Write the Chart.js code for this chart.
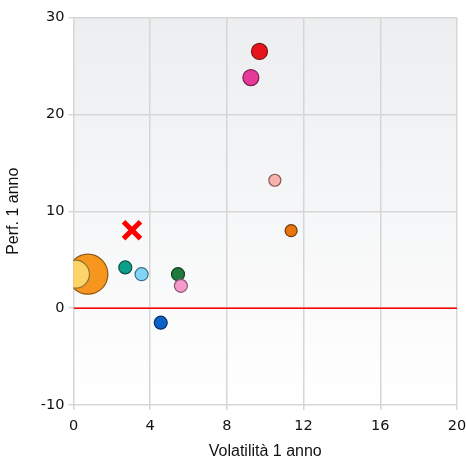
<!DOCTYPE html>
<html>
<head>
<meta charset="utf-8">
<script src="https://cdn.jsdelivr.net/npm/chart.js@4.4.1/dist/chart.umd.min.js"></script>
<style>
  html, body { margin: 0; padding: 0; background: #fff; }
  #wrap { width: 466px; height: 461px; }
</style>
</head>
<body>
<div id="wrap"><canvas id="myChart" width="466" height="461"></canvas></div>
<script>
// volatility (x), 1y performance (y), bubble radius (px)
const volatility = [9.7, 9.25, 10.5, 11.35, 0.75, 0.1, 2.7, 3.55, 5.45, 5.6, 4.55];
const performance = [26.5, 23.8, 13.2, 8.0, 3.5, 3.5, 4.2, 3.5, 3.5, 2.3, -1.5];
const sizes = [8, 8, 6, 6, 20, 14, 6.5, 6.5, 6.5, 6.5, 6.5];
const fills = ['#e8141b', '#e63a9a', '#f7b2ac', '#e8740c', '#f7961e', '#fdd468', '#0c9f89', '#80d7f5', '#1f7a3d', '#f59bc9', '#0b62c6'];
const borders = ['#7a1a1a', '#7d1f52', '#8a5a56', '#6e3906', '#8a5710', '#8a7035', '#0b514a', '#3f6c80', '#123d20', '#8a5372', '#0c2f66'];

// benchmark marker
const benchX = [3.05];
const benchY = [8.05];

const xTicks = [0, 4, 8, 12, 16, 20];
const yTicks = [-10, 0, 10, 20, 30];

const bgPlugin = {
    id: 'bgGradient',
    beforeDraw(chart) {
        const { ctx, chartArea } = chart;
        const g = ctx.createLinearGradient(0, chartArea.top, 0, chartArea.bottom);
        g.addColorStop(0, '#eceef0');
        g.addColorStop(1, '#ffffff');
        ctx.save();
        ctx.fillStyle = g;
        ctx.fillRect(chartArea.left, chartArea.top, chartArea.right - chartArea.left, chartArea.bottom - chartArea.top);
        ctx.restore();
    }
};

// keep tick labels from pushing the plot area inwards
function noPadding(axis) {
    axis.paddingLeft = 0;
    axis.paddingRight = 0;
    axis.paddingTop = 0;
    axis.paddingBottom = 0;
}

const data = {
    datasets: [
        {
            type: 'line',
            data: [{ x: xTicks[0], y: 0 }, { x: xTicks[xTicks.length - 1], y: 0 }],
            borderColor: '#ff0000',
            borderWidth: 1.5,
            pointRadius: 0,
            order: 3
        },
        {
            type: 'bubble',
            data: volatility.map((v, i) => ({ x: v, y: performance[i], r: sizes[i] })),
            backgroundColor: fills,
            borderColor: borders,
            borderWidth: 1.2,
            order: 2
        },
        {
            type: 'scatter',
            data: benchX.map((v, i) => ({ x: v, y: benchY[i] })),
            pointStyle: 'crossRot',
            pointRadius: 12,
            borderColor: '#ff0000',
            borderWidth: 5,
            order: 1
        }
    ]
};

const config = {
    type: 'bubble',
    data,
    options: {
        responsive: false,
        animation: false,
        layout: { autoPadding: false, padding: { top: 17.5, right: 9, left: 0, bottom: 0 } },
        plugins: {
            legend: { display: false },
            tooltip: { enabled: false }
        },
        scales: {
            x: {
                type: 'linear',
                min: 0,
                max: 20,
                afterBuildTicks: axis => { axis.ticks = xTicks.map(v => ({ value: v })); },
                afterFit: axis => { axis.height = 56; noPadding(axis); },
                grid: { color: '#d6d6d6', lineWidth: 1.5, tickLength: 5 },
                border: { display: false },
                ticks: { color: '#111', font: { family: 'DejaVu Sans', size: 14.5 }, padding: 8, maxRotation: 0 },
                title: { display: true, text: 'Volatilità 1 anno', color: '#111', font: { family: 'Liberation Sans', size: 16 }, padding: { top: 2, bottom: 0 } }
            },
            y: {
                type: 'linear',
                min: -10,
                max: 30,
                afterBuildTicks: axis => { axis.ticks = yTicks.map(v => ({ value: v })); },
                afterFit: axis => { axis.width = 73.5; noPadding(axis); },
                grid: { color: '#d6d6d6', lineWidth: 1.5, tickLength: 5 },
                border: { display: false },
                ticks: { color: '#111', font: { family: 'DejaVu Sans', size: 14.5 }, padding: 4 },
                title: { display: true, text: 'Perf. 1 anno', color: '#111', font: { family: 'Liberation Sans', size: 16 }, padding: { top: 4 } }
            }
        }
    },
    plugins: [bgPlugin]
};

const myChart = new Chart(document.getElementById('myChart'), config);
</script>
</body>
</html>
